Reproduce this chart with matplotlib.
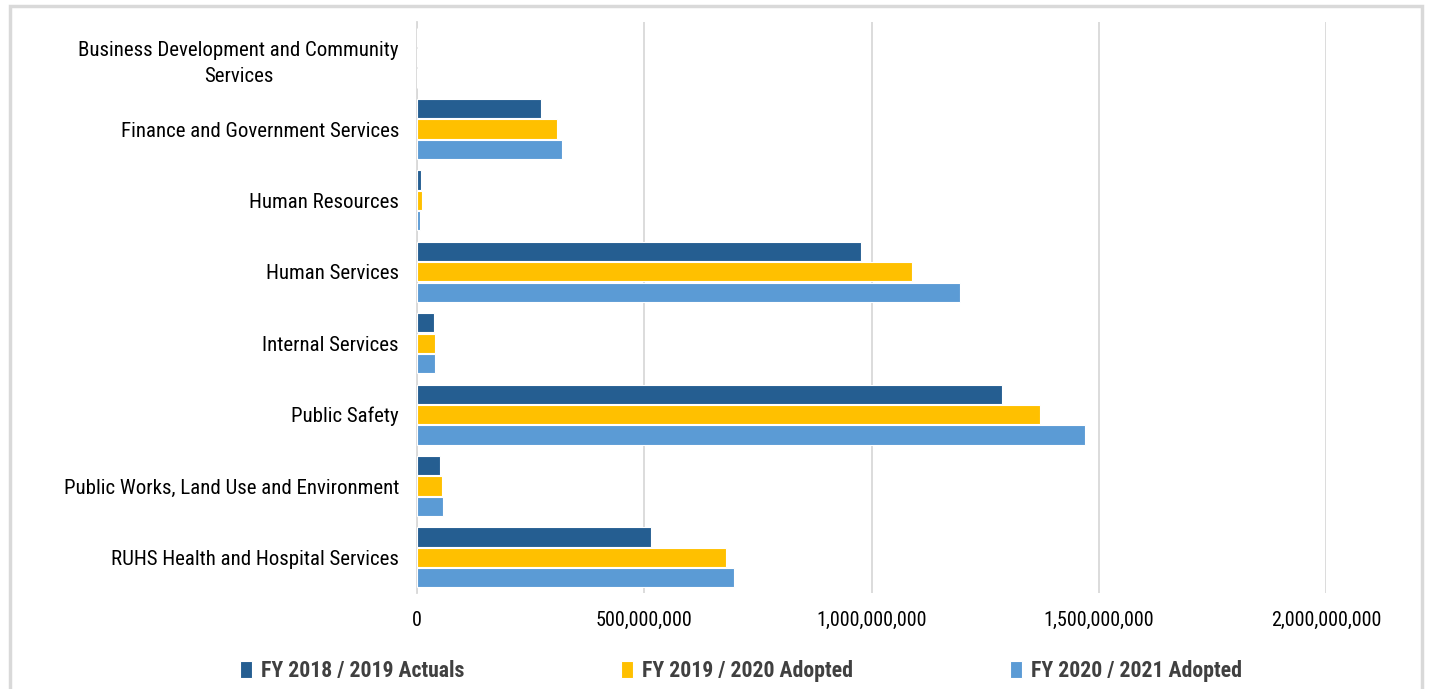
import numpy as np
import matplotlib.pyplot as plt
from matplotlib.patches import Rectangle

# Department spending by fiscal year
departments = [
    "Business Development and Community\nServices",
    "Finance and Government Services",
    "Human Resources",
    "Human Services",
    "Internal Services",
    "Public Safety",
    "Public Works, Land Use and Environment",
    "RUHS Health and Hospital Services",
]
fy_2018_19_actuals = [1_000_000, 273_000_000, 9_000_000, 977_000_000, 37_000_000, 1_287_000_000, 51_000_000, 515_000_000]
fy_2019_20_adopted = [1_000_000, 308_000_000, 11_000_000, 1_089_000_000, 40_000_000, 1_371_000_000, 55_000_000, 680_000_000]
fy_2020_21_adopted = [1_000_000, 319_000_000, 6_000_000, 1_195_000_000, 40_000_000, 1_470_000_000, 57_000_000, 697_000_000]
series_names = ["FY 2018 / 2019 Actuals", "FY 2019 / 2020 Adopted", "FY 2020 / 2021 Adopted"]
x_ticks = [0, 500_000_000, 1_000_000_000, 1_500_000_000, 2_000_000_000]

colors = ["#255E91", "#FFC000", "#5B9BD5"]

plt.rcParams["font.family"] = ["Roboto Condensed", "DejaVu Sans"]

fig = plt.figure(figsize=(14.29, 6.89), dpi=100)
ax = fig.add_axes([417 / 1429, 1 - 593 / 689, (1326 - 417) / 1429, (593 - 22) / 689])

# light grey frame around the whole chart
fig.patches.append(Rectangle((10 / 1429, -0.05), 1412 / 1429, 1.05 - 6 / 689,
                             transform=fig.transFigure, fill=False,
                             edgecolor="#d9d9d9", linewidth=2.5))

y = np.arange(len(departments))
h = 0.27
all_series = [fy_2018_19_actuals, fy_2019_20_adopted, fy_2020_21_adopted]
for i, (vals, c, name) in enumerate(zip(all_series, colors, series_names)):
    ax.barh(y + (i - 1) * (h + 0.015), vals, height=h, color=c,
            edgecolor="white", linewidth=0.8, label=name, zorder=3)

ax.set_ylim(7.5, -0.5)
ax.set_xlim(0, 2_000_000_000)
ax.set_yticks(y)
ax.set_yticklabels(departments, fontsize=15, color="black",
                   multialignment="center", linespacing=1.5)
ax.tick_params(axis="y", length=0, pad=13)
ax.set_xticks(x_ticks)
ax.set_xticklabels([f"{v:,}" for v in x_ticks], fontsize=14.5, color="black")
ax.tick_params(axis="x", length=0, pad=13)

ax.grid(axis="x", color="#d9d9d9", linewidth=1.3, zorder=0)
for s in ["top", "right", "bottom"]:
    ax.spines[s].set_visible(False)
ax.spines["left"].set_color("#d9d9d9")
ax.spines["left"].set_linewidth(1.3)

leg = fig.legend(loc="center left", bbox_to_anchor=(240 / 1429, 1 - 671 / 689), ncol=3,
                 frameon=False, borderpad=0, borderaxespad=0,
                 prop={"size": 15.7, "weight": "bold"}, handlelength=0.55, handleheight=0.8,
                 handletextpad=0.4, columnspacing=7.2)
for t in leg.get_texts():
    t.set_color("#404040")

fig.savefig("out.png", dpi=100)
